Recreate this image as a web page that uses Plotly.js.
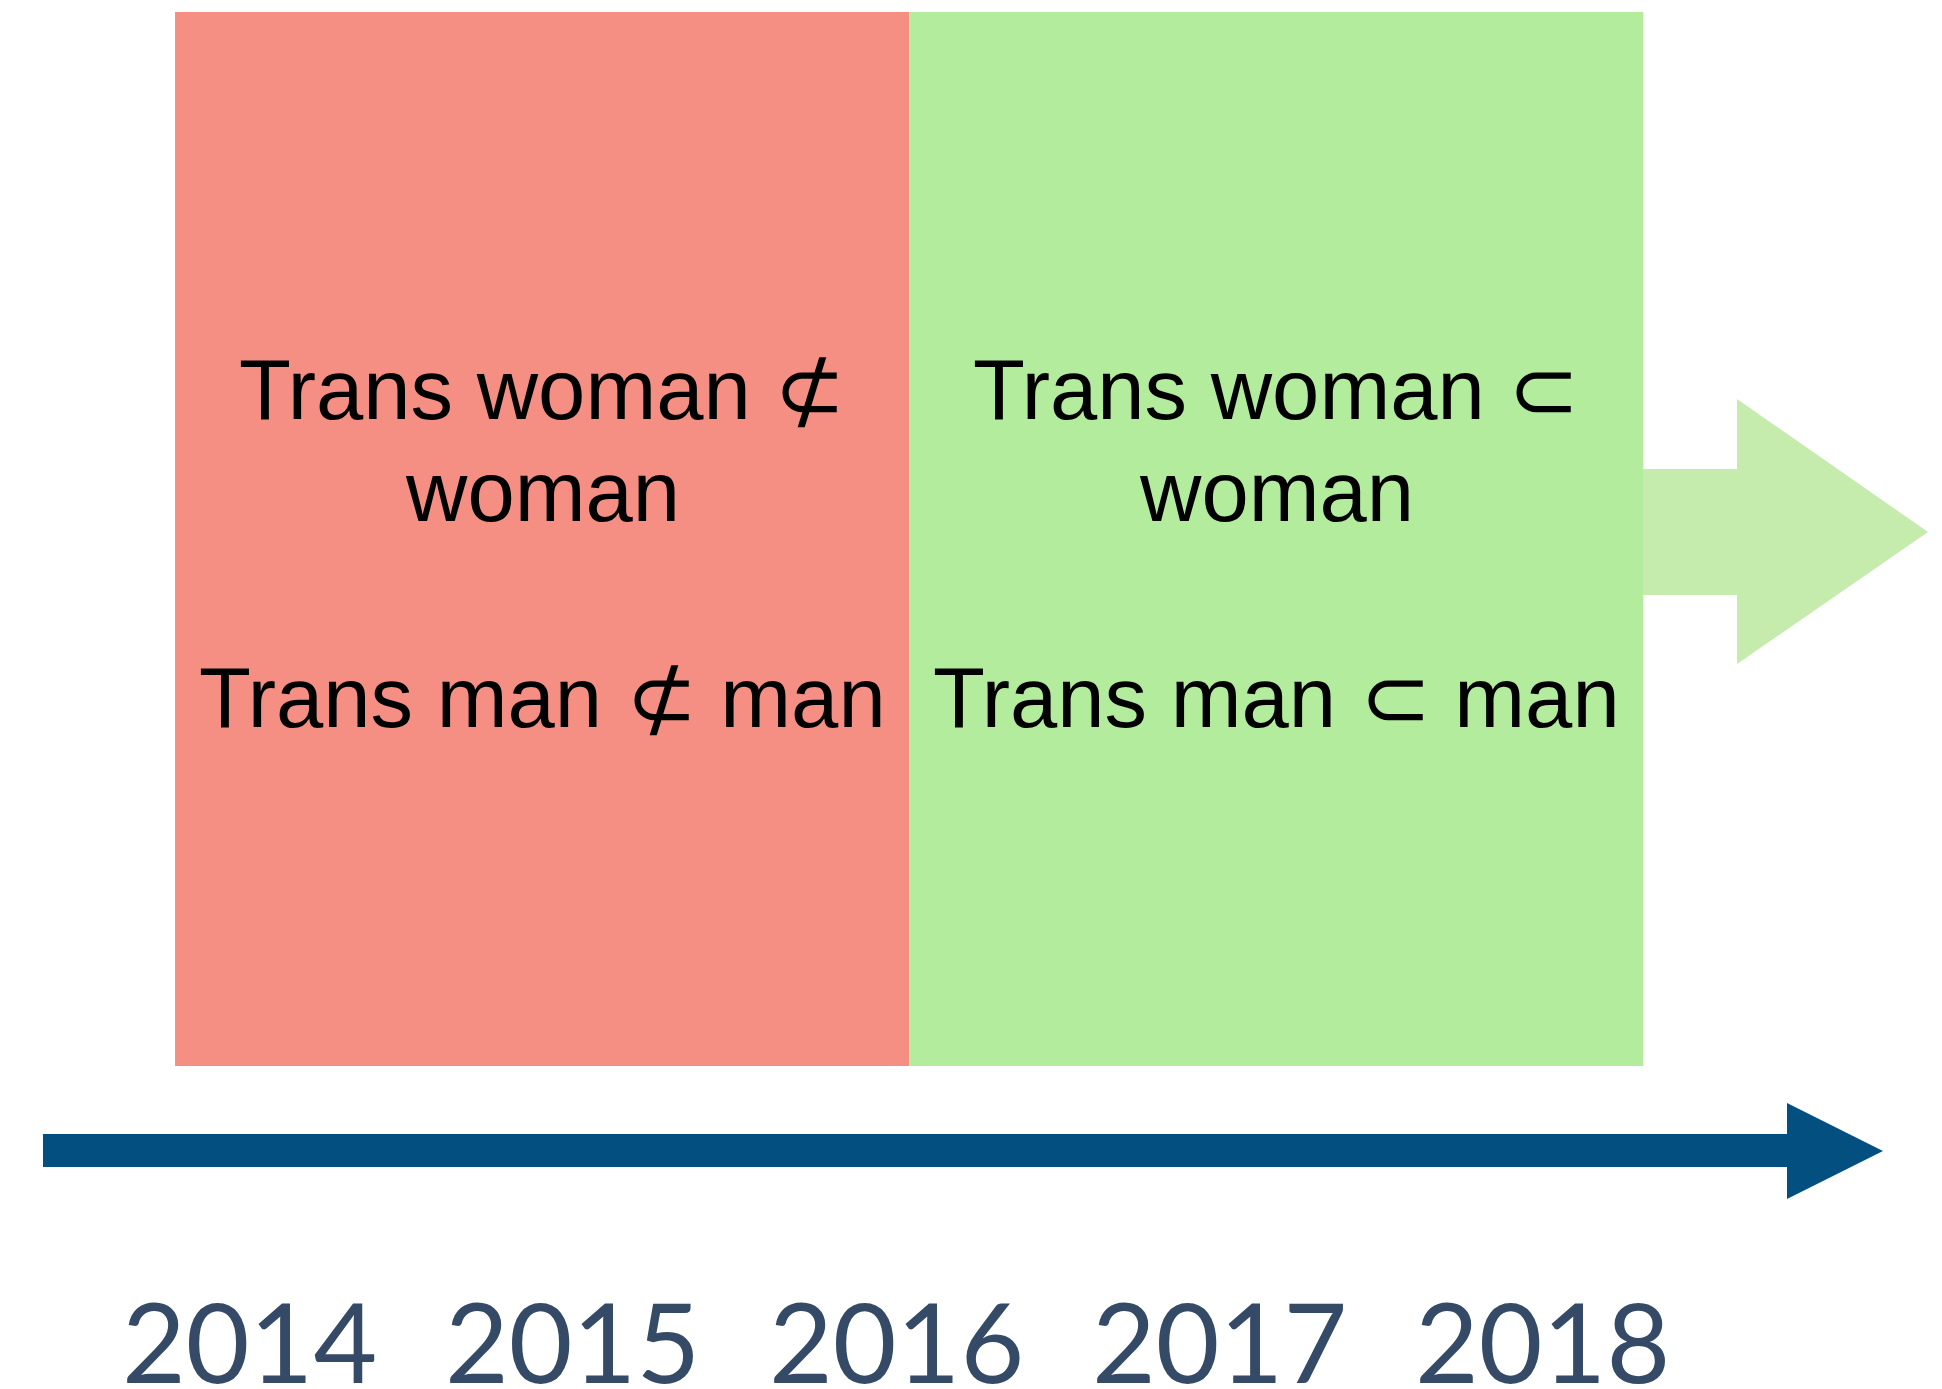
<!DOCTYPE html>
<html>
<head>
<meta charset="utf-8">
<script src="https://cdn.plot.ly/plotly-3.0.1.min.js"></script>
<style>
  html, body { margin: 0; padding: 0; background: #ffffff; }
  #chart { width: 1942px; height: 1389px; }
</style>
</head>
<body>
<div id="chart"></div>
<script>
// ---- data ----
const years = [2014, 2015, 2016, 2017, 2018];
const yearLabels = ["2014", "2015", "2016", "2017", "2018"];
const eraNames = ["before", "after"];
const eraStart = [2013.77, 2016.04];
const eraEnd = [2016.04, 2018.31];
const eraLine1 = ["Trans woman \u2284", "Trans woman \u2282"];
const eraLine2 = ["woman", "woman"];
const eraLine3 = ["Trans man \u2284 man", "Trans man \u2282 man"];
const eraColors = ["#F58F84", "#B4EC9E"];

// ---- layout helpers ----
const W = 1942, H = 1389;
const px = v => v / W;
const py = v => 1 - v / H;
function pathFrom(points) {
  return points.map((p, i) => (i ? "L" : "M") + px(p[0]).toFixed(5) + "," + py(p[1]).toFixed(5)).join(" ") + " Z";
}

const textFont = { family: "'Liberation Sans', Arial, sans-serif", size: 85, color: "#000000" };
const yearFont = { family: "Lato, 'Liberation Sans', sans-serif", size: 110, color: "#344A66" };

const shapes = [];
const annotations = [];

eraNames.forEach((n, i) => {
  shapes.push({
    type: "rect", xref: "x", yref: "paper",
    x0: eraStart[i], x1: eraEnd[i], y0: py(1066), y1: py(12),
    fillcolor: eraColors[i], line: { width: 0 }, layer: "below"
  });
  const cx = (eraStart[i] + eraEnd[i]) / 2;
  [[eraLine1[i], 389.5], [eraLine2[i], 492], [eraLine3[i], 697]].forEach(([t, yy]) => {
    annotations.push({
      xref: "x", yref: "paper", x: cx, y: py(yy),
      xanchor: "center", yanchor: "middle",
      text: t, showarrow: false, font: textFont
    });
  });
});

// continuation arrow (green) and timeline arrow (blue)
shapes.push({
  type: "path", xref: "paper", yref: "paper",
  path: pathFrom([[1643, 469], [1737, 469], [1737, 399], [1928, 532], [1737, 664], [1737, 595], [1643, 595]]),
  fillcolor: "#C5ECAD", line: { width: 0 }
});
shapes.push({
  type: "path", xref: "paper", yref: "paper",
  path: pathFrom([[43, 1134], [1787, 1134], [1787, 1103], [1883, 1151], [1787, 1199], [1787, 1167], [43, 1167]]),
  fillcolor: "#024F80", line: { width: 0 }
});

years.forEach((y, i) => {
  annotations.push({
    xref: "x", yref: "paper", x: y, y: py(1340),
    xanchor: "center", yanchor: "middle",
    text: yearLabels[i], showarrow: false, font: yearFont
  });
});

const layout = {
  width: W, height: H, autosize: false,
  margin: { l: 0, r: 0, t: 0, b: 0, pad: 0 },
  paper_bgcolor: "#ffffff", plot_bgcolor: "#ffffff",
  showlegend: false,
  xaxis: { range: [2013.2288, 2019.2338], visible: false, showgrid: false, zeroline: false, fixedrange: true },
  yaxis: { range: [0, 1], visible: false, showgrid: false, zeroline: false, fixedrange: true },
  shapes: shapes,
  annotations: annotations
};

Plotly.newPlot("chart", [{ type: "scatter", x: years, y: years.map(() => null), mode: "markers", hoverinfo: "skip" }], layout, { staticPlot: true, displayModeBar: false });
</script>
</body>
</html>
